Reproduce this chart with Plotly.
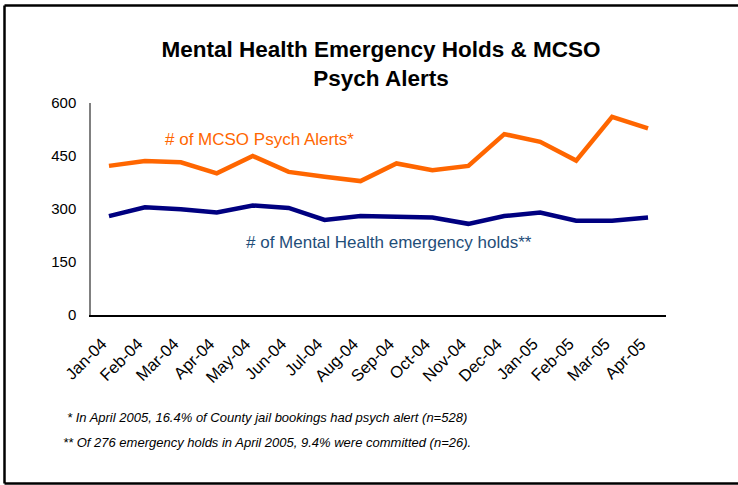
import plotly.graph_objects as go

months = ["Jan-04", "Feb-04", "Mar-04", "Apr-04", "May-04", "Jun-04", "Jul-04", "Aug-04",
          "Sep-04", "Oct-04", "Nov-04", "Dec-04", "Jan-05", "Feb-05", "Mar-05", "Apr-05"]
psych_alerts = [422, 436, 432, 401, 450, 405, 391, 379, 429, 410, 422, 512, 490, 437, 561, 528]
emergency_holds = [280, 305, 299, 290, 310, 303, 269, 280, 278, 276, 258, 280, 290, 267, 267, 276]
y_ticks = [0, 150, 300, 450, 600]

W, H = 738, 485
L, R, T, B = 91, 72, 103, 170
pw, ph = W - L - R, H - T - B

def px(x):
    return (x - L) / pw

def py(y):
    return (H - B - y) / ph

fig = go.Figure()
fig.add_trace(go.Scatter(x=months, y=psych_alerts, mode="lines",
                         line=dict(color="#FF6600", width=4.5), showlegend=False))
fig.add_trace(go.Scatter(x=months, y=emergency_holds, mode="lines",
                         line=dict(color="#000080", width=4.5), showlegend=False))

font_main = "Liberation Sans, Arial, sans-serif"

fig.update_layout(
    width=W, height=H,
    margin=dict(l=L, r=R, t=T, b=B),
    paper_bgcolor="white", plot_bgcolor="white",
    font=dict(family=font_main, color="black", size=14),
    title=dict(text="<b>Mental Health Emergency Holds & MCSO<br>Psych Alerts</b>",
               x=381 / W, xanchor="center", y=1 - 57 / H, yanchor="middle",
               font=dict(size=22.5, family=font_main, color="black")),
    xaxis=dict(type="category", range=[-0.5, 15.5], showgrid=False,
               showline=True, linecolor="black", linewidth=1.5,
               ticks="", tickangle=-45, tickfont=dict(size=16.5), ticklabelstandoff=11,
               ticklabelshift=-7, zeroline=False),
    yaxis=dict(range=[0, 600], tickvals=y_ticks, showgrid=False,
               showline=True, linecolor="#808080", linewidth=1.5,
               ticks="", tickfont=dict(size=15), ticklabelstandoff=10, zeroline=False),
)

fig.add_annotation(x=4.19, y=498, xref="x", yref="y", text="# of MCSO Psych Alerts*",
                   showarrow=False, font=dict(size=17, color="#FF6600", family=font_main))
fig.add_annotation(x=7.8, y=204, xref="x", yref="y", text="# of Mental Health emergency holds**",
                   showarrow=False, font=dict(size=17, color="#1F4E79", family=font_main))

foot_font = dict(size=13, color="black", family=font_main)
fig.add_annotation(x=px(267), y=py(417), xref="paper", yref="paper",
                   text="<i>* In April 2005, 16.4% of County jail bookings had psych alert (n=528)</i>",
                   showarrow=False, font=foot_font, xanchor="center", yanchor="middle")
fig.add_annotation(x=px(267), y=py(442), xref="paper", yref="paper",
                   text="<i>** Of 276 emergency holds in April 2005, 9.4% were committed (n=26).</i>",
                   showarrow=False, font=foot_font, xanchor="center", yanchor="middle")

frame = dict(color="black", width=2.5)
fig.add_shape(type="line", xref="paper", yref="paper", x0=px(4.5), x1=px(4.5), y0=py(5.5), y1=py(483.5), line=frame)
fig.add_shape(type="line", xref="paper", yref="paper", x0=px(4.5), x1=px(760), y0=py(5.5), y1=py(5.5), line=frame)
fig.add_shape(type="line", xref="paper", yref="paper", x0=px(4.5), x1=px(760), y0=py(483.5), y1=py(483.5), line=frame)

fig.write_html("out.html", config={"displayModeBar": False},
               post_script="document.body.style.margin='0';document.body.style.overflow='hidden';")
